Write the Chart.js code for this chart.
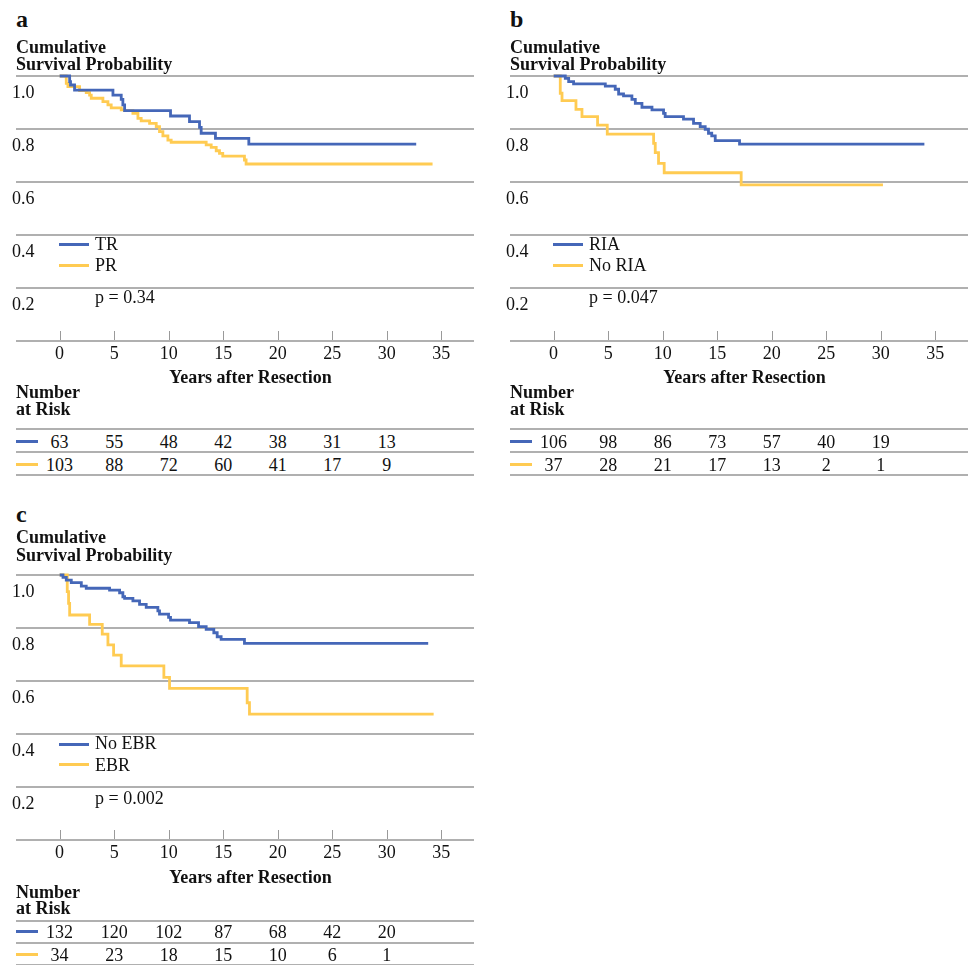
<!DOCTYPE html>
<html>
<head>
<meta charset="utf-8">
<script src="https://cdn.jsdelivr.net/npm/chart.js@4.4.0/dist/chart.umd.min.js"></script>
<style>
  html, body { margin: 0; padding: 0; background: #fff; overflow: hidden; }
  #page { position: relative; width: 970px; height: 965px; font-family: "Liberation Serif", "Times New Roman", serif; color: #111; }
  .t { position: absolute; white-space: nowrap; }
  .rule { position: absolute; height: 2px; background: #b0b0b0; }
  .sw { position: absolute; height: 3px; }
  canvas { position: absolute; }
</style>
</head>
<body>
<div id="page"></div>
<script>
// axis ticks
const yearTicks = [0, 5, 10, 15, 20, 25, 30, 35];
const survTicks = [0, 0.2, 0.4, 0.6, 0.8, 1.0];

// a: TR vs PR
const trTime = [0, 0.92, 1.0, 1.37, 4.89, 5.65, 5.8, 5.96, 10.17, 11.91, 12.83, 12.98, 14.29, 17.35, 32.7];
const trSurv = [1, 0.979, 0.966, 0.947, 0.928, 0.912, 0.891, 0.869, 0.849, 0.828, 0.806, 0.784, 0.765, 0.743, 0.743];
const prTime = [0, 0.61, 0.76, 1.83, 2.44, 2.75, 2.9, 3.97, 4.43, 4.73, 5.65, 5.96, 6.72, 7.18, 7.48, 8.25, 8.86, 9.16, 9.47, 9.93, 10.23, 13.44, 13.9, 14.36, 14.66, 14.96, 16.95, 17.1, 34.2];
const prSurv = [1, 0.972, 0.96, 0.945, 0.937, 0.928, 0.916, 0.903, 0.891, 0.88, 0.872, 0.869, 0.859, 0.84, 0.831, 0.821, 0.809, 0.79, 0.774, 0.758, 0.75, 0.74, 0.731, 0.718, 0.708, 0.698, 0.683, 0.668, 0.668];
const riskTR = [63, 55, 48, 42, 38, 31, 13];
const riskPR = [103, 88, 72, 60, 41, 17, 9];

// b: RIA vs No RIA
const riaTime = [0, 1.07, 1.38, 1.83, 4.74, 5.65, 5.96, 6.41, 7.18, 7.49, 8.1, 9.02, 10.08, 10.23, 11.91, 12.83, 13.44, 13.9, 14.2, 14.5, 14.82, 17.05, 34.0];
const riaSurv = [1, 0.991, 0.979, 0.97, 0.962, 0.95, 0.932, 0.925, 0.912, 0.897, 0.882, 0.872, 0.859, 0.847, 0.837, 0.821, 0.809, 0.799, 0.784, 0.774, 0.756, 0.743, 0.743];
const noRiaTime = [0, 0.61, 0.77, 2.05, 2.6, 4.03, 4.92, 9.17, 9.32, 9.62, 10.14, 17.2, 30.2];
const noRiaSurv = [1, 0.935, 0.907, 0.874, 0.847, 0.815, 0.781, 0.746, 0.711, 0.67, 0.635, 0.589, 0.589];
const riskRIA = [106, 98, 86, 73, 57, 40, 19];
const riskNoRIA = [37, 28, 21, 17, 13, 2, 1];

// c: No EBR vs EBR
const noEbrTime = [0, 0.31, 0.61, 1.07, 1.99, 2.44, 4.58, 5.5, 5.8, 5.96, 6.72, 7.33, 7.94, 9.01, 9.16, 9.99, 10.17, 11.91, 12.74, 13.44, 14.14, 14.45, 14.81, 16.95, 33.8];
const noEbrSurv = [1, 0.991, 0.981, 0.971, 0.958, 0.95, 0.943, 0.933, 0.918, 0.912, 0.902, 0.889, 0.878, 0.865, 0.852, 0.84, 0.83, 0.82, 0.805, 0.795, 0.782, 0.767, 0.757, 0.742, 0.742];
const ebrTime = [0, 0.7, 0.82, 0.92, 2.75, 3.91, 4.43, 4.95, 5.65, 9.56, 10.08, 17.2, 17.41, 34.3];
const ebrSurv = [1, 0.937, 0.893, 0.849, 0.814, 0.777, 0.736, 0.698, 0.657, 0.614, 0.572, 0.518, 0.475, 0.475];
const riskNoEBR = [132, 120, 102, 87, 68, 42, 20];
const riskEBR = [34, 23, 18, 15, 10, 6, 1];

const BLUE = '#4567b8';
const YELLOW = '#ffcb52';
const GRID = '#b0b0b0';

Chart.defaults.font.family = '"Liberation Serif", "Times New Roman", serif';
Chart.defaults.font.size = 18;
Chart.defaults.color = '#111';

const page = document.getElementById('page');

// place a text by its baseline
function text(str, x, baseline, size, bold, center) {
  const d = document.createElement('div');
  d.className = 't';
  d.textContent = str;
  d.style.fontSize = size + 'px';
  d.style.lineHeight = size + 'px';
  d.style.fontWeight = bold ? 'bold' : 'normal';
  d.style.left = x + 'px';
  d.style.top = (baseline - 0.8375 * size) + 'px';
  if (center) d.style.transform = 'translateX(-50%)';
  page.appendChild(d);
}
function box(cls, x, y, w, color) {
  const d = document.createElement('div');
  d.className = cls;
  d.style.left = x + 'px';
  d.style.top = y + 'px';
  d.style.width = w + 'px';
  if (color) d.style.background = color;
  page.appendChild(d);
}

const tickMarks = {
  id: 'tickMarks',
  afterDraw(chart) {
    const { ctx, chartArea } = chart;
    const x = chart.scales.x;
    ctx.save();
    ctx.strokeStyle = '#9a9a9a';
    ctx.lineWidth = 1;
    yearTicks.forEach(v => {
      const px = Math.round(x.getPixelForValue(v)) + 0.5;
      ctx.beginPath();
      ctx.moveTo(px, chartArea.bottom - 10);
      ctx.lineTo(px, chartArea.bottom - 1);
      ctx.stroke();
    });
    ctx.restore();
  }
};

const panels = [
  { tag: 'a', left: 0, top: 76, names: ['TR', 'PR'], p: 'p = 0.34',
    series: [[trTime, trSurv], [prTime, prSurv]], risk: [riskTR, riskPR],
    tagY: 27, cumY: [52.7, 70], legY: [250, 271], swY: [243, 264], pY: 303.3,
    xTitleY: 383.3, numY: [398.3, 415], rules: [428, 451, 474], rowY: [447.7, 471], markY: [440, 462.5] },
  { tag: 'b', left: 494, top: 76, names: ['RIA', 'No RIA'], p: 'p = 0.047',
    series: [[riaTime, riaSurv], [noRiaTime, noRiaSurv]], risk: [riskRIA, riskNoRIA],
    tagY: 27.3, cumY: [53, 70], legY: [250, 271], swY: [243, 264], pY: 303.3,
    xTitleY: 383.3, numY: [398.3, 415], rules: [428, 451, 474], rowY: [447.7, 471], markY: [440, 462.5] },
  { tag: 'c', left: 0, top: 575, names: ['No EBR', 'EBR'], p: 'p = 0.002',
    series: [[noEbrTime, noEbrSurv], [ebrTime, ebrSurv]], risk: [riskNoEBR, riskEBR],
    tagY: 522, cumY: [543.3, 561.5], legY: [749.3, 770.7], swY: [743, 763], pY: 804,
    xTitleY: 883.3, numY: [898.3, 914.3], rules: [920, 942, 964], rowY: [938.3, 960.7], markY: [930, 953] }
];

panels.forEach(p => {
  const cv = document.createElement('canvas');
  cv.width = 476;
  cv.height = 311;
  cv.style.left = p.left + 'px';
  cv.style.top = (p.top - 16) + 'px';
  page.appendChild(cv);

  const chart = new Chart(cv, {
    type: 'line',
    data: {
      datasets: p.series.map((s, i) => ({
        label: p.names[i],
        data: s[0].map((t, j) => ({ x: t, y: s[1][j] })),
        stepped: true,
        borderColor: i === 0 ? BLUE : YELLOW,
        borderWidth: 2.8,
        pointRadius: 0,
        fill: false,
        clip: false
      }))
    },
    options: {
      responsive: false,
      animation: false,
      events: [],
      layout: { padding: { left: 16, right: 2, top: 16, bottom: 0 } },
      plugins: { legend: { display: false }, tooltip: { enabled: false } },
      scales: {
        x: {
          type: 'linear', min: -4, max: 38,
          afterBuildTicks: s => { s.ticks = yearTicks.map(v => ({ value: v })); },
          afterFit: s => { s.height = 30; },
          grid: { display: false, drawTicks: false },
          border: { display: false },
          ticks: { padding: 2, maxRotation: 0, autoSkip: false }
        },
        y: {
          min: 0, max: 1,
          afterBuildTicks: s => { s.ticks = survTicks.map(v => ({ value: v })); },
          afterFit: s => { s.width = 0; },
          grid: { color: GRID, lineWidth: 2, drawTicks: false },
          border: { display: false },
          ticks: { mirror: true, padding: -4, labelOffset: 17, autoSkip: false,
                   callback: v => v === 0 ? '' : v.toFixed(1) }
        }
      }
    },
    plugins: [tickMarks]
  });

  const xs = chart.scales.x;
  const L = p.left;

  text(p.tag, L + 16, p.tagY, 24, true);
  text('Cumulative', L + 16, p.cumY[0], 18, true);
  text('Survival Probability', L + 16, p.cumY[1], 18, true);

  // legend inside plot
  [BLUE, YELLOW].forEach((c, i) => {
    box('sw', L + 59, p.swY[i], 30, c);
    text(p.names[i], L + 95, p.legY[i], 18, false);
  });
  text(p.p, L + 95, p.pY, 18, false);

  text('Years after Resection', L + xs.getPixelForValue(17.5), p.xTitleY, 18, true, true);

  // number at risk table
  text('Number', L + 16, p.numY[0], 18, true);
  text('at Risk', L + 16, p.numY[1], 18, true);
  p.rules.forEach(y => box('rule', L + 16, y, 458));
  p.risk.forEach((row, i) => {
    box('sw', L + 16, p.markY[i], 22, i === 0 ? BLUE : YELLOW);
    row.forEach((n, j) => text(String(n), L + xs.getPixelForValue(yearTicks[j]), p.rowY[i], 18, false, true));
  });
});
</script>
</body>
</html>
